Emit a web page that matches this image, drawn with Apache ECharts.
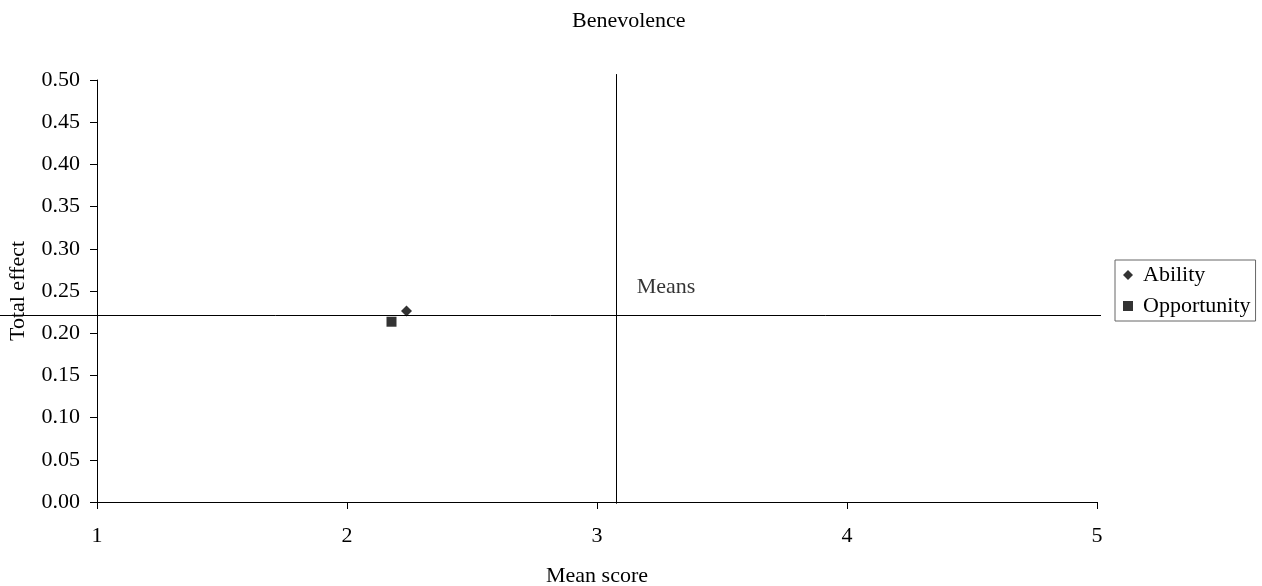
<!DOCTYPE html>
<html><head><meta charset="utf-8">
<script src="https://cdn.jsdelivr.net/npm/echarts@6/dist/echarts.min.js"></script>
<style>html,body{margin:0;padding:0;background:#fff}#c{width:1262px;height:586px}</style>
</head><body><div id="c"></div>
<script>
const title = 'Benevolence';
const xTicks = [1, 2, 3, 4, 5];
const yTicks = [0, 0.05, 0.1, 0.15, 0.2, 0.25, 0.3, 0.35, 0.4, 0.45, 0.5];
const abilityPoints = [[2.238, 0.2263]];
const opportunityPoints = [[2.178, 0.2136]];
const meanX = 3.075;
const meanY = 0.2216;
const hLine = [[0.612, meanY], [5.016, meanY]];
const vLine = [[meanX, -0.002], [meanX, 0.507]];
const font = 'Liberation Serif';
const fs = 22;

const chart = echarts.init(document.getElementById('c'));
chart.setOption({
  animation: false,
  backgroundColor: '#fff',
  title: {text: title, left: 567, top: 5,
    textStyle: {fontFamily: font, fontSize: fs, fontWeight: 'normal', color: '#000'}},
  grid: {left: 97, right: 165, top: 80, bottom: 84, containLabel: false, outerBoundsMode: 'none'},
  legend: {
    orient: 'vertical', left: 1115, top: 260, padding: [4, 5, 4, 8],
    borderColor: '#666', borderWidth: 1, itemGap: 9,
    itemWidth: 10, itemHeight: 10, align: 'left',
    textStyle: {fontFamily: font, fontSize: fs, color: '#000', padding: [0, 0, 0, 5]},
    data: [{name: 'Ability', icon: 'diamond'}, {name: 'Opportunity', icon: 'rect'}]
  },
  xAxis: {
    type: 'value', min: xTicks[0], max: xTicks[xTicks.length - 1], interval: 1,
    name: 'Mean score', nameLocation: 'middle', nameGap: 63,
    nameTextStyle: {fontFamily: font, fontSize: fs, color: '#000'},
    axisLine: {lineStyle: {color: '#000', width: 1}},
    axisTick: {show: true, length: 7, lineStyle: {color: '#000'}},
    axisLabel: {fontFamily: font, fontSize: fs, color: '#000', margin: 23},
    splitLine: {show: false}
  },
  yAxis: {
    type: 'value', min: yTicks[0], max: yTicks[yTicks.length - 1], interval: 0.05,
    name: 'Total effect', nameLocation: 'middle', nameGap: 68, nameRotate: 90,
    nameTextStyle: {fontFamily: font, fontSize: fs, color: '#000'},
    axisLine: {show: true, lineStyle: {color: '#000', width: 1}},
    axisTick: {show: true, length: 7, lineStyle: {color: '#000'}},
    axisLabel: {fontFamily: font, fontSize: fs, color: '#000', margin: 17,
      formatter: v => v.toFixed(2)},
    splitLine: {show: false}
  },
  series: [
    {name: 'meansLabel', type: 'scatter', data: [[meanX, meanY]], symbolSize: 0, silent: true,
      label: {show: true, formatter: 'Means', position: [21, -28], verticalAlign: 'middle',
        fontFamily: font, fontSize: fs, color: '#000'}},
    {name: 'Ability', type: 'scatter', data: abilityPoints, symbol: 'diamond', symbolSize: 11,
      itemStyle: {color: '#000'}, z: 5},
    {name: 'Opportunity', type: 'scatter', data: opportunityPoints, symbol: 'rect', symbolSize: 10,
      itemStyle: {color: '#000'}, z: 5}
  ]
});

function px(p) { return chart.convertToPixel({gridIndex: 0}, p); }
function mkLine(pts) {
  const a = px(pts[0]), b = px(pts[1]);
  const snap = v => Math.round(v) + 0.5;
  const horiz = Math.abs(a[1] - b[1]) < 1;
  return {
    type: 'line', silent: true, z: 1,
    shape: horiz ? {x1: a[0], y1: snap(a[1]), x2: b[0], y2: snap(a[1])}
                 : {x1: snap(a[0]), y1: a[1], x2: snap(a[0]), y2: b[1]},
    style: {stroke: '#000', lineWidth: 1}
  };
}
chart.setOption({graphic: [mkLine(hLine), mkLine(vLine)]});
</script></body></html>
